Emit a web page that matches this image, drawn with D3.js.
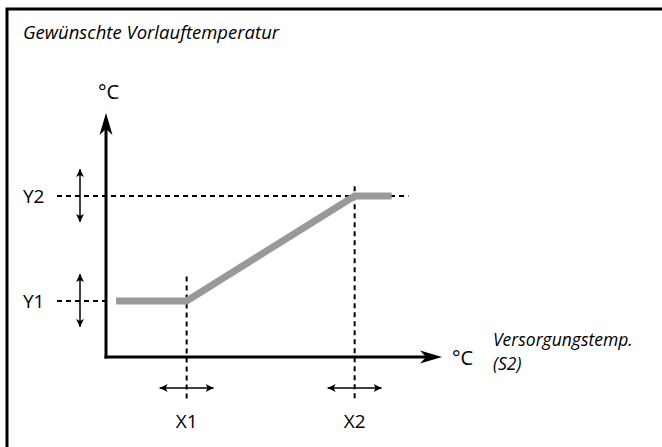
<!DOCTYPE html>
<html>
<head>
<meta charset="utf-8">
<script src="https://cdn.jsdelivr.net/npm/d3@7"></script>
<style>
  html, body { margin: 0; padding: 0; background: #fff; }
  svg { display: block; }
  text { font-family: "Open Sans", "Noto Sans", sans-serif; fill: #000; }
</style>
</head>
<body>
<svg id="chart" width="662" height="447"></svg>
<script>
// Characteristic: desired flow temperature vs. supply temperature (S2)
const title = "Gewünschte Vorlauftemperatur";
const xTitle = ["Versorgungstemp.", "(S2)"];
const unit = "°C";

// Break points on the x axis and limits on the y axis (relative units, 0..100)
const xBreakLabels = ["X1", "X2"];
const xBreakValues = [24, 74];
const yLimitLabels = ["Y1", "Y2"];
const yLimitValues = [23, 66];

// Curve: flat at Y1, ramp from X1 to X2, flat at Y2
const curveX = [3, 24, 74, 85];
const curveY = [23, 23, 66, 66];

const svg = d3.select("#chart");
const W = 662, H = 447;

const x = d3.scaleLinear().domain([0, 100]).range([106, 442]);
const y = d3.scaleLinear().domain([0, 100]).range([357, 113]);

// Frame (top and left edge)
svg.append("path")
  .attr("d", `M7,${H} L7,9 L${W},9`)
  .attr("fill", "none").attr("stroke", "#000").attr("stroke-width", 3);

svg.append("text")
  .attr("x", 23).attr("y", 39)
  .attr("font-size", 18.5).attr("font-style", "italic")
  .text(title);

// Guide lines (dashed)
const dash = "5,4";
yLimitValues.forEach((v, i) => {
  const xEnd = i === 0 ? x(0) : x(90);
  svg.append("line")
    .attr("x1", 57).attr("x2", xEnd)
    .attr("y1", y(v)).attr("y2", y(v))
    .attr("stroke", "#000").attr("stroke-width", 2)
    .attr("stroke-dasharray", dash);
});
xBreakValues.forEach((v, i) => {
  const yTop = i === 0 ? y(33) : y(70);
  svg.append("line")
    .attr("x1", x(v)).attr("x2", x(v))
    .attr("y1", yTop).attr("y2", 401)
    .attr("stroke", "#000").attr("stroke-width", 2)
    .attr("stroke-dasharray", dash);
});

// Curve
const pts = curveX.map((d, i) => [x(d), y(curveY[i])]);
svg.append("path")
  .attr("d", d3.line()(pts))
  .attr("fill", "none").attr("stroke", "#999").attr("stroke-width", 7)
  .attr("stroke-linejoin", "miter");

// Axes with arrowheads
const x0 = x(0), y0 = y(0);
svg.append("line")
  .attr("x1", x0).attr("y1", y0 + 1.5).attr("x2", x0).attr("y2", y(100) + 12)
  .attr("stroke", "#000").attr("stroke-width", 3);
svg.append("line")
  .attr("x1", x0 - 1.5).attr("y1", y0).attr("x2", x(100) - 12).attr("y2", y0)
  .attr("stroke", "#000").attr("stroke-width", 3);

function arrowHead(tx, ty, angle, len, half, notch) {
  const p = d3.path();
  p.moveTo(0, 0);
  p.lineTo(-len, -half);
  p.lineTo(-len + notch, 0);
  p.lineTo(-len, half);
  p.closePath();
  svg.append("path").attr("d", p.toString())
    .attr("transform", `translate(${tx},${ty}) rotate(${angle})`)
    .attr("fill", "#000");
}
arrowHead(x0, y(100), -90, 22, 6.5, 6);
arrowHead(x(100), y0, 0, 22, 6.5, 6);

// Axis unit labels
svg.append("text").attr("x", x0 - 8).attr("y", y(100) - 14)
  .attr("font-size", 20).text(unit);
svg.append("text").attr("x", x(100) + 10).attr("y", y0 + 8)
  .attr("font-size", 20).text(unit);

svg.append("text").attr("x", 493).attr("y", 346)
  .attr("font-size", 17.5).attr("font-style", "italic").text(xTitle[0]);
svg.append("text").attr("x", 493).attr("y", 370)
  .attr("font-size", 17.5).attr("font-style", "italic").text(xTitle[1]);

// Adjustment double arrows
function dblArrow(x1, y1, x2, y2) {
  const g = svg.append("g");
  g.append("line").attr("x1", x1).attr("y1", y1).attr("x2", x2).attr("y2", y2)
    .attr("stroke", "#000").attr("stroke-width", 1.5);
  const ang = Math.atan2(y2 - y1, x2 - x1) * 180 / Math.PI;
  arrowHead(x2, y2, ang, 8, 4, 2);
  arrowHead(x1, y1, ang + 180, 8, 4, 2);
}
yLimitValues.forEach(v => {
  dblArrow(80, y(v) - 27, 80, y(v) + 26);
});
xBreakValues.forEach(v => {
  dblArrow(x(v) - 27, 388, x(v) + 27, 388);
});

// Limit labels
yLimitLabels.forEach((l, i) => {
  svg.append("text").attr("x", 23).attr("y", y(yLimitValues[i]) + 7)
    .attr("font-size", 19).text(l);
});
xBreakLabels.forEach((l, i) => {
  svg.append("text").attr("x", x(xBreakValues[i])).attr("y", 428)
    .attr("text-anchor", "middle")
    .attr("font-size", 19).text(l);
});
</script>
</body>
</html>
